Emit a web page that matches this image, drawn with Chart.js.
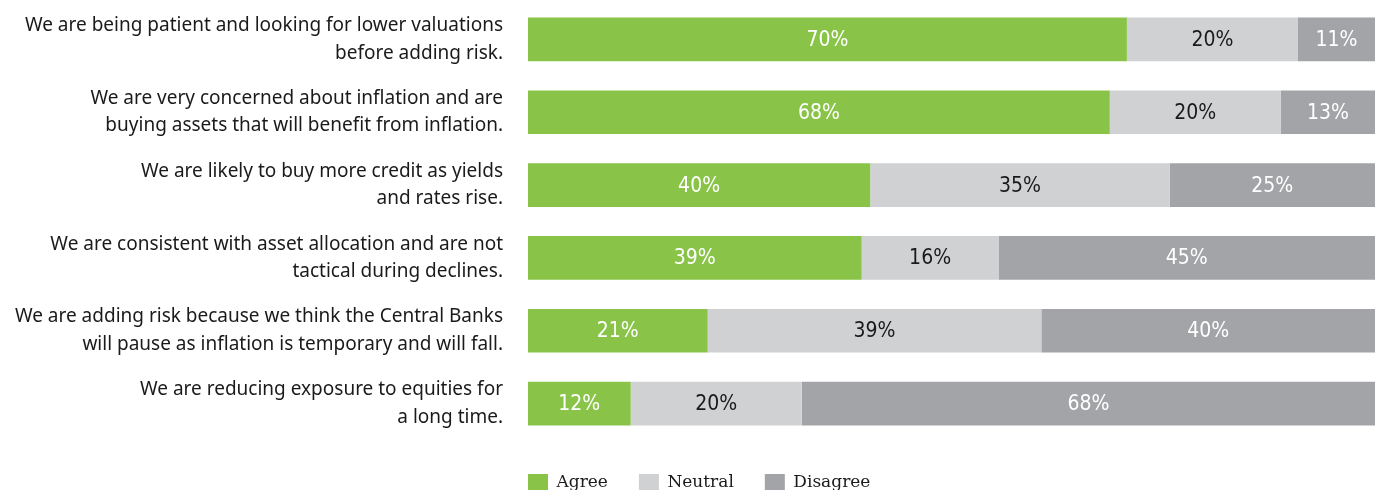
<!DOCTYPE html>
<html>
<head>
<meta charset="utf-8">
<script src="https://cdn.jsdelivr.net/npm/chart.js@4.4.1/dist/chart.umd.min.js"></script>
<style>
  html, body { margin: 0; padding: 0; background: #fff; }
  #wrap { width: 1375px; height: 490px; }
</style>
</head>
<body>
<div id="wrap"><canvas id="surveyChart" width="1375" height="490"></canvas></div>
<script>
// statements (y axis), each split into two lines as in the source
const statements = [
  ['We are being patient and looking for lower valuations', 'before adding risk.'],
  ['We are very concerned about inflation and are', 'buying assets that will benefit from inflation.'],
  ['We are likely to buy more credit as yields', 'and rates rise.'],
  ['We are consistent with asset allocation and are not', 'tactical during declines.'],
  ['We are adding risk because we think the Central Banks', 'will pause as inflation is temporary and will fall.'],
  ['We are reducing exposure to equities for', 'a long time.']
];

const agree    = [70, 68, 40, 39, 21, 12];
const neutral  = [20, 20, 35, 16, 39, 20];
const disagree = [11, 13, 25, 45, 40, 68];

const ctx = document.getElementById('surveyChart').getContext('2d');

// draws the % value in the middle of each visible bar segment
const valueLabels = {
  id: 'valueLabels',
  afterLayout(chart) {
    // legend starts flush with the bars, not one padding further in
    const lg = chart.legend;
    if (lg) {
      const pad = lg.options.labels.padding;
      lg.left -= pad;
      lg.right -= pad;
      lg.top += 3;
      lg.bottom += 3;
    }
  },
  afterDatasetsDraw(chart) {
    const c = chart.ctx;
    const area = chart.chartArea;
    c.save();
    c.font = '21px "DejaVu Sans", sans-serif';
    if ('fontStretch' in c) c.fontStretch = 'condensed';
    c.textAlign = 'center';
    c.textBaseline = 'middle';
    chart.data.datasets.forEach((ds, i) => {
      const meta = chart.getDatasetMeta(i);
      meta.data.forEach((bar, j) => {
        const left = Math.max(Math.min(bar.x, bar.base), area.left);
        const right = Math.min(Math.max(bar.x, bar.base), area.right);
        c.fillStyle = ds.labelColor;
        c.fillText(ds.data[j] + '%', (left + right) / 2, bar.y + 1);
      });
    });
    c.restore();
  }
};

const chart = new Chart(ctx, {
  type: 'bar',
  data: {
    labels: statements,
    datasets: [
      { label: 'Agree', data: agree, backgroundColor: '#89c449', labelColor: '#ffffff' },
      { label: 'Neutral', data: neutral, backgroundColor: '#d0d1d3', labelColor: '#1a1a1a' },
      { label: 'Disagree', data: disagree, backgroundColor: '#a3a4a7', labelColor: '#ffffff' }
    ]
  },
  options: {
    indexAxis: 'y',
    responsive: false,
    animation: false,
    layout: { padding: { top: 3, right: 0, left: 0, bottom: -8 } },
    datasets: {
      bar: { barPercentage: 0.6, categoryPercentage: 1, borderWidth: 0 }
    },
    scales: {
      x: {
        stacked: true,
        display: false,
        min: 0,
        max: 99
      },
      y: {
        stacked: true,
        grid: { display: false, drawTicks: false },
        border: { display: false },
        ticks: {
          padding: 25,
          color: '#1a1a1a',
          font: { family: '"Noto Sans", sans-serif', size: 19, lineHeight: 1.45 }
        },
        afterFit(scale) {
          scale.width = 528;
          scale.paddingTop = 0;
          scale.paddingBottom = 0;
        }
      }
    },
    plugins: {
      tooltip: { enabled: false },
      legend: {
        position: 'bottom',
        align: 'start',
        fullSize: false,
        labels: {
          boxWidth: 20,
          boxHeight: 17,
          padding: 31,
          color: '#1a1a1a',
          font: { family: '"DejaVu Serif", serif', size: 17 }
        }
      }
    }
  },
  plugins: [valueLabels]
});
</script>
</body>
</html>
